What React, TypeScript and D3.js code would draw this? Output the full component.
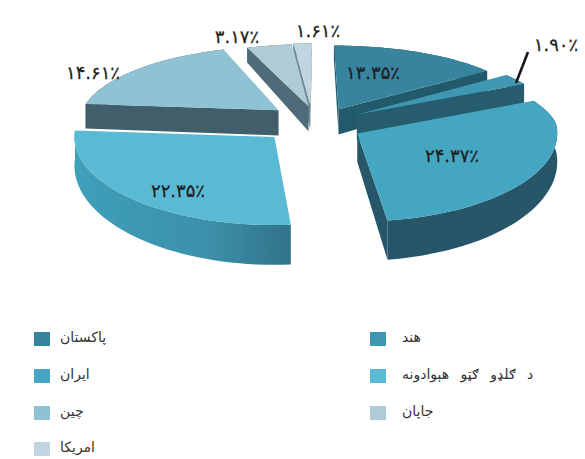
import React from "react";
import * as d3 from "d3";

const names = ["پاکستان", "هند", "ایران", "د ګلډو ګټو هېوادونه", "چین", "جاپان", "امریکا"];
const shares = [13.35, 1.9, 24.37, 22.35, 14.61, 3.17, 1.61];
const shareLabels = ["۱۳.۳۵٪", "۱.۹۰٪", "۲۴.۳۷٪", "۲۲.۳۵٪", "۱۴.۶۱٪", "۳.۱۷٪", "۱.۶۱٪"];
const topColors = ["#38849f", "#3f97b2", "#45a6c2", "#5ab9d3", "#8fc2d3", "#aecbd6", "#c0d5e0"];
const wallColors = ["#235a6c", "#255c6d", "#265767", "url(#wall3)", "#3f5f6b", "#4f6b78", "#6d8794"];
const pull = [0.19, 0.22, 0.23, 0.27, 0.25, 0.2, 0.22];
const pullSkewDeg = [4, 0, 0, 9, 0, 0, -7];
const rimStartDeg = [0, 0, 0, 0, 0, -3, 0];
const rimEndDeg = [0, 0, -4, 0, -2.5, 0, 0];
const labelPos: [number, number][] = [[373, 74], [556, 46], [452, 157], [178, 192], [93, 74], [237, 38], [318, 32]];
const legendCols = [60, 402];
const swatchCols = [34, 370];
const legendRows = [339, 376, 413, 449];

const W = 585, H = 459;
const cx = 318, cy = 123, rx = 200, ry = 88;
const rad = Math.PI / 180;

function persp(V: number) { return V < 0 ? 1 - 0.2 * Math.pow(-V, 1.25) : 1; }
function planeToScreen(U: number, V: number): [number, number] {
  const f = persp(V);
  return [cx + rx * U * f, cy + ry * V * f];
}
function depth(V: number) { return 27 + 11 * V; }

const pieGen = d3.pie<number>().sort(null).startAngle(0).endAngle(2 * Math.PI);
const line = d3.line();

export default function App() {
  const arcs = pieGen(shares);
  const drawOrder = [6, 5, 4, 0, 1, 2, 3];
  return (
    <svg width={W} height={H} style={{ position: "absolute", left: 0, top: 0, background: "#fff" }}>
      <defs>
        <linearGradient id="wall3" gradientUnits="userSpaceOnUse" x1="80" x2="295" y1="0" y2="0">
          <stop offset="0" stopColor="#3f9fb9" />
          <stop offset="0.6" stopColor="#3c90a9" />
          <stop offset="1" stopColor="#2f7187" />
        </linearGradient>
        <filter id="soft"><feGaussianBlur stdDeviation="0.5" /></filter>
      </defs>
      <g filter="url(#soft)">
        {drawOrder.map((i) => {
          const d = arcs[i];
          const mid = (d.startAngle + d.endAngle) / 2;
          const a0 = d.startAngle + rimStartDeg[i] * rad;
          const a1 = d.endAngle + rimEndDeg[i] * rad;
          const pa = mid + pullSkewDeg[i] * rad;
          const pu = pull[i] * Math.sin(pa), pv = -pull[i] * Math.cos(pa);
          const pt = (a: number): [number, number] =>
            planeToScreen(pu + Math.sin(a), pv - Math.cos(a));
          const down = (a: number): [number, number] => {
            const p = pt(a);
            return [p[0], p[1] + depth(pv - Math.cos(a))];
          };
          const [ax, ay] = planeToScreen(pu, pv);
          const apexDown: [number, number] = [ax, ay + depth(pv)];
          const angs = d3.range(0, 41).map((k) => a0 + ((a1 - a0) * k) / 40);
          const top = line([[ax, ay], ...angs.map(pt)]) + "Z";
          const arcWall = line([...angs.map(pt), ...angs.slice().reverse().map(down)]) + "Z";
          const M = pt(mid);
          const walls = [a0, a1].filter((a) => {
            const C = pt(a);
            const ex = C[0] - ax, ey = C[1] - ay;
            let nx = -ey, ny = ex;
            if (nx * (M[0] - ax) + ny * (M[1] - ay) > 0) { nx = -nx; ny = -ny; }
            return ny > 0;
          });
          return (
            <g key={i}>
              <path d={arcWall} fill={wallColors[i]} />
              {walls.map((a, k) => (
                <path key={k} d={line([[ax, ay], pt(a), down(a), apexDown])! + "Z"} fill={wallColors[i]} />
              ))}
              <path d={top} fill={topColors[i]} />
            </g>
          );
        })}
      </g>
      <line x1={528} y1={52} x2={516} y2={83} stroke="#1a1a1a" strokeWidth={2.6} />
      {shareLabels.map((t, i) => (
        <text key={i} x={labelPos[i][0]} y={labelPos[i][1]} textAnchor="middle" dominantBaseline="middle" direction="ltr"
          fontFamily="'DejaVu Sans'" fontSize={18} stroke="#1d1d1b" strokeWidth={0.25} fill="#1d1d1b">{t}</text>
      ))}
      {names.map((n, i) => {
        const col = i % 2, y = legendRows[Math.floor(i / 2)];
        return (
          <g key={i}>
            <rect x={swatchCols[col]} y={y - 7} width={16} height={14} fill={topColors[i]} />
            <text x={legendCols[col]} y={y - 1} textAnchor="end" dominantBaseline="middle" direction="rtl"
              fontFamily="'DejaVu Sans'" fontSize={14} wordSpacing={7} fill="#333">{n}</text>
          </g>
        );
      })}
    </svg>
  );
}
